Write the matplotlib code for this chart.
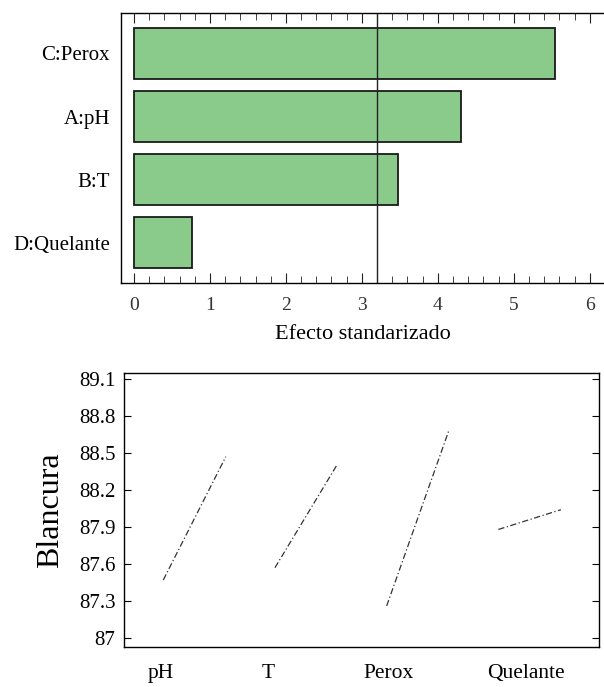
import numpy as np
import matplotlib
matplotlib.use("Agg")
import matplotlib.pyplot as plt
from matplotlib.ticker import MultipleLocator

plt.rcParams["font.family"] = ["Liberation Serif", "DejaVu Serif"]

# Pareto chart: standardized effects
factors = ["D:Quelante", "B:T", "A:pH", "C:Perox"]
effects = [0.76, 3.47, 4.30, 5.54]
t_crit = 3.2

# Main effects: response at low / high level of each factor
me_names = ["pH", "T", "Perox", "Quelante"]
me_low = [87.47, 87.57, 87.26, 87.88]
me_high = [88.47, 88.41, 88.69, 88.04]
y_ticks = [87, 87.3, 87.6, 87.9, 88.2, 88.5, 88.8, 89.1]
y_ticklabels = ["87", "87.3", "87.6", "87.9", "88.2", "88.5", "88.8", "89.1"]

fig = plt.figure(figsize=(6.04, 6.87), dpi=100)

# --- top: Pareto bars ---
ax1 = fig.add_axes([0.2003, 0.588, 0.80, 0.393])
ypos = np.arange(len(factors))
ax1.barh(ypos, effects, height=0.81, color="#8acb8c", edgecolor="#1a1a1a",
         linewidth=1.3)
ax1.axvline(t_crit, color="#222222", linewidth=1.0)
ax1.set_xlim(-0.171, 6.19)
ax1.set_ylim(-0.64, 3.64)
ax1.set_yticks(ypos)
ax1.set_yticklabels(factors, fontsize=15)
ax1.tick_params(axis="y", length=0, pad=8)
ax1.set_xticks(range(7))
ax1.xaxis.set_minor_locator(MultipleLocator(0.2))
ax1.tick_params(axis="x", which="both", direction="in", top=True,
                labelsize=14, pad=10, colors="#222222", labelcolor="#333333")
ax1.tick_params(axis="x", which="major", length=7)
ax1.tick_params(axis="x", which="minor", length=5)
ax1.set_xlabel("Efecto standarizado", fontsize=16, labelpad=8)
ax1.spines["right"].set_visible(False)
for s in ["left", "top", "bottom"]:
    ax1.spines[s].set_linewidth(1.0)

# --- bottom: main effects ---
ax2 = fig.add_axes([0.205, 0.0582, 0.786, 0.399])
half = 0.28
for i, (lo, hi) in enumerate(zip(me_low, me_high)):
    ax2.plot([i - half, i + half], [lo, hi], color="#333333", linewidth=0.9,
             linestyle=(0, (5, 2, 1, 2)))
ax2.set_xlim(-0.633, 3.617)
ax2.set_ylim(86.927, 89.149)
ax2.set_yticks(y_ticks)
ax2.set_yticklabels(y_ticklabels, fontsize=15)
ax2.tick_params(axis="y", direction="in", right=True, length=5, pad=6)
ax2.set_xticks([-0.3, 0.655, 1.737, 2.963])
ax2.set_xticklabels(me_names, fontsize=15.5)
ax2.tick_params(axis="x", length=0, pad=12)
ax2.set_ylabel("Blancura", fontsize=23, labelpad=10)
for s in ax2.spines.values():
    s.set_linewidth(1.0)

fig.savefig("out.png", dpi=100)
